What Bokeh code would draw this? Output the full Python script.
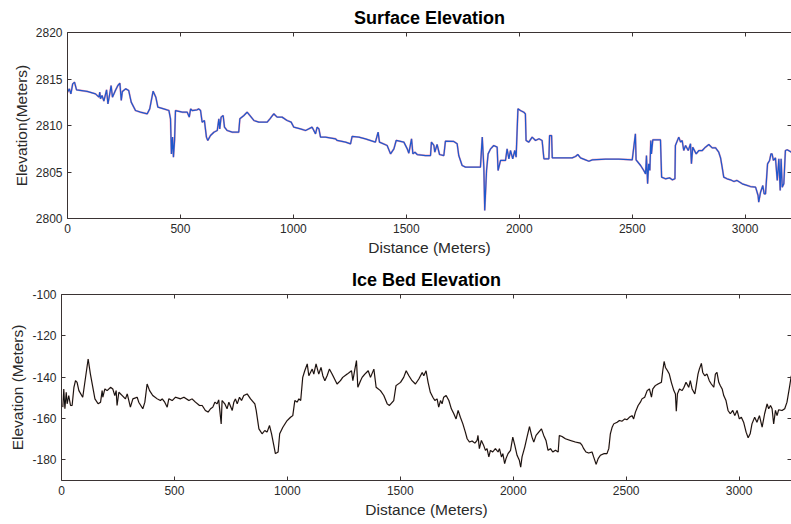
from bokeh.plotting import figure
from bokeh.models import LinearAxis, Range1d, FixedTicker, PrintfTickFormatter
from bokeh.layouts import column, row
from bokeh.embed import file_html
from bokeh.resources import INLINE

# ---------------- data ----------------
surface_x = [0, 8, 15, 23, 31, 40, 87, 124, 139, 143, 146, 153, 161, 173, 179, 187, 193, 199, 212, 223,
             232, 238, 243, 258, 271, 282, 301, 323, 353, 364, 379, 391, 400, 426, 449, 456, 460, 465, 469, 474,
             478, 508, 530, 539, 545, 552, 574, 581, 589, 596, 606, 615, 621, 633, 648, 663, 670, 674, 680, 689,
             695, 707, 729, 758, 763, 781, 795, 807, 825, 847, 884, 896, 913, 928, 950, 972, 990, 1002, 1031,
             1054, 1083, 1098, 1105, 1113, 1120, 1142, 1186, 1194, 1231, 1253, 1260, 1290, 1319, 1363, 1375, 1381,
             1415, 1430, 1445, 1455, 1489, 1504, 1511, 1523, 1529, 1538, 1548, 1585, 1607, 1611, 1622, 1626, 1636,
             1647, 1666, 1673, 1710, 1725, 1732, 1747, 1762, 1828, 1836, 1843, 1847, 1855, 1862, 1873, 1887, 1902,
             1906, 1917, 1939, 1946, 1954, 1961, 1971, 1980, 1986, 1994, 2005, 2020, 2027, 2030, 2042, 2057, 2072,
             2087, 2101, 2109,
             2116, 2131, 2134, 2143, 2146, 2175, 2205, 2234, 2249, 2259, 2271, 2293, 2308, 2323, 2382, 2441, 2500,
             2514, 2517, 2537, 2551, 2559, 2563, 2568, 2573, 2578, 2582, 2585, 2591, 2610, 2625, 2630, 2647, 2665,
             2677, 2689, 2691, 2706, 2714, 2721, 2728, 2736, 2748, 2758, 2762, 2768, 2783, 2795, 2810, 2824, 2839,
             2854, 2869, 2883, 2891, 2898, 2905, 2920, 2935, 2950, 2964, 2987, 3001, 3023, 3046, 3057, 3060, 3068,
             3078, 3084, 3090, 3099, 3108, 3114, 3119, 3125, 3134, 3142, 3149, 3155, 3159, 3164, 3171, 3178, 3186,
             3205]
surface_y = [2813.58, 2813.94, 2813.40, 2814.48, 2814.66, 2813.84, 2813.66, 2813.40, 2813.05, 2813.58, 2812.87,
             2813.23, 2812.62, 2813.84, 2812.33, 2813.40, 2814.30, 2813.05, 2813.76, 2814.30, 2814.55, 2812.69,
             2813.66, 2813.94, 2813.76, 2812.51, 2811.61, 2811.43, 2811.26, 2811.79, 2813.69, 2813.05, 2811.97,
             2811.79, 2811.61, 2810.72, 2806.95, 2808.75, 2806.60, 2808.39, 2811.61, 2811.43, 2811.43, 2810.90,
             2811.79, 2811.61, 2811.69, 2811.79, 2811.61, 2810.36, 2810.54, 2808.75, 2808.39, 2808.93, 2809.28,
             2809.46, 2810.72, 2809.64, 2810.90, 2811.08, 2809.82, 2809.46, 2809.28, 2809.28, 2810.72, 2811.08,
             2811.43, 2811.08, 2810.54, 2810.36, 2810.36, 2810.72, 2811.26, 2810.90, 2810.90, 2810.54, 2810.36,
             2809.82, 2809.64,
             2809.46, 2809.82, 2809.10, 2809.82, 2809.64, 2808.75, 2808.75, 2808.57, 2808.39, 2808.21, 2808.03,
             2808.82, 2808.75, 2808.57, 2808.21, 2809.28, 2808.21, 2807.85, 2806.95, 2807.49, 2808.39, 2808.21,
             2807.49, 2807.02, 2808.57, 2806.95, 2807.13, 2806.88, 2806.77, 2806.77, 2808.21, 2807.85, 2807.13,
             2807.96, 2806.88, 2806.77, 2808.32, 2808.28, 2808.03, 2806.77, 2805.70, 2805.52, 2805.52, 2808.75,
             2805.52, 2800.86, 2805.16, 2806.95, 2807.49, 2807.85, 2807.67, 2805.16, 2806.24, 2806.24, 2807.49,
             2806.42, 2807.31, 2806.42, 2807.31, 2806.60, 2811.79, 2811.61, 2811.43, 2811.25, 2808.39, 2808.21,
             2808.75, 2808.39, 2808.57, 2808.39, 2806.42,
             2806.42, 2806.42, 2808.92, 2808.92, 2806.52, 2806.52, 2806.52, 2806.52, 2806.67, 2806.88, 2806.52,
             2806.31, 2806.16, 2806.31, 2806.38, 2806.38, 2806.31, 2809.10, 2806.31, 2805.70, 2805.16, 2804.80,
             2806.77, 2803.73, 2805.88, 2805.16, 2808.39, 2806.95, 2808.46, 2808.46, 2808.46, 2804.45, 2804.27,
             2804.37, 2804.16, 2804.27, 2807.85, 2808.75, 2808.21, 2808.39, 2807.31, 2807.85, 2807.31, 2808.03,
             2805.88, 2807.67, 2806.95, 2807.31, 2807.31, 2807.67, 2807.96, 2807.60, 2807.60, 2807.13, 2806.52,
             2805.52, 2804.45, 2804.27, 2804.16, 2803.98, 2804.09, 2803.73, 2803.62, 2803.44, 2803.37, 2802.47,
             2801.76, 2802.83, 2803.55, 2802.65, 2802.65, 2805.88, 2806.24, 2806.95, 2806.95, 2806.24, 2806.52,
             2804.09, 2806.42, 2803.01, 2806.42, 2803.37, 2803.73, 2807.31, 2807.39, 2807.13]

bed_x = [6, 10, 15, 21, 25, 32, 40, 47, 55, 62, 69, 77, 94, 118, 128, 148, 162, 173, 180, 183, 192, 202, 217,
         227, 236, 242, 246, 254, 269, 283, 291, 305, 316, 335, 342, 360, 369, 379, 390, 404, 424, 438, 446, 457,
         468, 475, 490, 505, 527, 542, 564, 578, 593, 611, 623, 637, 649, 660, 670, 679, 689, 696, 707, 711, 723,
         733, 741, 756, 763, 770, 778, 788, 797, 807, 822, 837, 856, 862, 874, 888, 900, 910, 921, 930, 940, 947,
         959, 966, 980, 999, 1014, 1024, 1033, 1043, 1051, 1059, 1068, 1077, 1088, 1095, 1110, 1117, 1127, 1139,
         1149, 1157, 1166, 1176, 1186, 1198, 1220, 1235, 1245, 1265, 1284, 1290, 1299, 1306, 1312, 1324, 1331,
         1343, 1358, 1368, 1383, 1393, 1412, 1427, 1442, 1452, 1471, 1481, 1501, 1515, 1526, 1538, 1552, 1567,
         1582, 1597, 1604, 1614, 1623, 1633, 1644, 1653, 1663, 1670, 1678, 1685, 1692, 1703, 1715, 1726, 1737,
         1747, 1756, 1766, 1777, 1788, 1796, 1806, 1818, 1830, 1840, 1844, 1850, 1859, 1869, 1877, 1884, 1892,
         1899, 1909, 1921, 1933, 1939, 1948, 1954, 1962, 1968, 1977, 1988, 1998, 2007, 2017, 2027, 2033, 2039,
         2051, 2061, 2072, 2083, 2091, 2101, 2113, 2125, 2135, 2145, 2154, 2165, 2175, 2187, 2199, 2204, 2216,
         2231, 2253, 2275, 2297, 2305, 2312, 2322, 2334, 2349, 2356, 2367, 2376, 2386, 2401, 2415, 2423, 2430,
         2438, 2445, 2460, 2470, 2482, 2494, 2504, 2514, 2526, 2533, 2541, 2553, 2563, 2570, 2582, 2593, 2603,
         2612, 2618, 2629, 2641, 2656, 2662, 2668, 2674, 2683, 2691, 2700, 2711, 2718, 2722, 2727, 2736, 2748,
         2756, 2765, 2777, 2784, 2792, 2804, 2809, 2818, 2824, 2833, 2839, 2848, 2858, 2868, 2877, 2888, 2895,
         2902, 2910, 2917, 2925, 2932, 2942, 2951, 2961, 2972, 2981, 2991, 3001, 3010, 3020, 3031, 3040, 3049,
         3057, 3069, 3079, 3090, 3102, 3113, 3124, 3131, 3139, 3146, 3153, 3161, 3168, 3175, 3190, 3202, 3212,
         3223, 3231]
bed_y = [-154.5, -145.7, -155.3, -147.3, -152.9, -148.9, -153.7, -153.7, -144.9, -141.7, -142.5, -146.5, -149.7,
         -131.2, -138.5, -150.5, -152.9, -152.1, -146.5, -149.7, -145.7, -146.5, -144.9, -145.7, -148.9, -146.5,
         -153.7, -147.3, -148.9, -150.5, -148.1, -154.5, -150.5, -149.7, -152.1, -155.3, -152.1, -143.3, -146.5,
         -148.9, -150.5, -151.3, -150.5, -152.1, -154.5, -150.5, -151.3, -149.7, -150.5, -149.7, -151.3, -150.5,
         -152.1, -153.7, -153.7, -156.1, -156.9, -155.3, -154.5, -152.1, -152.9, -151.0, -162.6, -151.3, -152.9,
         -155.3, -152.1, -156.1, -152.1, -150.5, -152.9, -149.7, -151.3, -148.9, -148.1, -150.5, -152.9, -156.1,
         -165.0, -167.4, -165.8, -166.6, -163.4, -167.4, -173.0, -177.0, -176.2, -167.4, -164.2, -161.0, -159.4,
         -158.6, -151.3, -152.1, -150.5, -151.3, -140.1, -136.9, -133.6, -139.3, -136.1, -138.5, -133.6, -138.5,
         -135.3, -139.3, -141.7, -139.3, -136.1, -138.5, -143.3, -141.7, -140.1, -138.5, -136.9, -141.7, -136.1,
         -132.0, -144.9, -141.7, -140.1, -138.5, -136.9, -140.1, -136.1, -144.9, -146.5, -148.9, -152.9, -153.7,
         -151.3, -144.1, -142.5, -140.1, -136.9, -139.3, -141.7, -143.3,
         -140.9, -137.7, -139.3, -136.9, -142.5, -147.3, -149.7, -151.3, -150.5, -154.5, -151.3, -152.9, -149.7,
         -148.9, -151.3, -155.3, -157.7, -160.2, -156.1, -159.4, -162.6, -166.6, -169.8, -171.4, -170.9, -171.9,
         -170.6, -168.2, -174.6, -170.6, -173.0, -175.4, -174.6, -178.6, -175.4, -176.2, -174.6, -176.2, -174.6,
         -178.6, -177.0, -181.8, -179.4, -177.0, -175.4, -169.0, -173.0, -177.8, -180.2, -183.5, -178.6, -173.8,
         -169.0, -163.9, -169.0, -171.4, -168.2, -166.6, -165.0, -168.2, -170.6, -175.4, -174.6, -176.2, -175.4,
         -176.2, -168.2, -168.7, -169.8, -170.6, -171.4, -171.9, -173.0, -174.6, -176.2, -176.7, -176.2, -178.6,
         -182.2, -179.4, -177.8, -177.0, -177.0, -174.6, -167.4, -164.2, -162.6, -161.8, -161.0, -161.3, -160.2,
         -160.6, -159.4, -158.6, -160.2, -156.9, -153.7, -152.1, -150.5, -149.7, -146.5, -145.7, -149.7, -145.7,
         -144.1, -143.3, -142.5, -136.9, -132.4, -135.3, -136.9, -138.5, -142.5, -146.5, -148.1, -156.5, -148.1,
         -145.7, -146.5, -144.9, -142.5, -144.9, -141.7, -145.7, -148.1, -144.9, -138.5, -136.1, -133.3, -137.7,
         -139.3, -138.5, -141.7, -143.3, -144.9, -138.5, -137.7, -142.5, -144.1, -145.7, -148.9, -151.3, -156.1,
         -157.7, -156.1, -158.6, -156.1, -160.2, -159.4, -161.8, -166.6, -169.3, -167.4, -162.6, -159.4, -161.8,
         -158.6, -164.2, -157.7, -152.9, -155.3, -153.7, -155.3, -162.6, -156.1, -158.6, -155.8, -156.1, -155.3,
         -152.1, -144.9, -139.3]

x_ticks = [0, 500, 1000, 1500, 2000, 2500, 3000]
surface_ticks = [2800, 2805, 2810, 2815, 2820]
bed_ticks = [-180, -160, -140, -120, -100]

FONT = "Liberation Sans"
AX = "#3a3333"
TXT = "#2a2a2a"


def style_axis(ax, labels=True):
    ax.axis_line_color = AX
    ax.major_tick_line_color = AX
    ax.major_tick_in = 4
    ax.major_tick_out = 0
    ax.minor_tick_line_color = None
    ax.major_label_text_font = FONT
    ax.major_label_text_font_size = "12px"
    ax.major_label_text_color = TXT
    ax.major_label_standoff = 5
    ax.formatter = PrintfTickFormatter(format="%d")
    ax.axis_label_text_font = FONT
    ax.axis_label_text_font_size = "15.5px"
    ax.axis_label_text_font_style = "normal"
    ax.axis_label_text_color = TXT
    ax.axis_label_standoff = 3
    if not labels:
        ax.major_label_text_font_size = "1px"
        ax.major_label_text_color = None
        ax.major_label_standoff = 0


def make_fig(title, xr, yr, yticks, ylabel, w, h, left, top, bottom):
    p = figure(width=w, height=h, x_range=Range1d(*xr), y_range=Range1d(*yr),
               output_backend="svg", toolbar_location=None,
               min_border_left=left, min_border_right=0, min_border_top=top,
               min_border_bottom=bottom)
    p.title.text = title
    p.title.align = "center"
    p.title.text_font = FONT
    p.title.text_font_size = "18px"
    p.title.text_font_style = "bold"
    p.title.text_color = "#000000"
    p.title.standoff = 10
    p.grid.visible = False
    p.outline_line_color = None
    p.background_fill_color = "white"
    p.border_fill_color = "white"
    p.xaxis.ticker = FixedTicker(ticks=x_ticks)
    p.yaxis.ticker = FixedTicker(ticks=yticks)
    p.xaxis.axis_label = "Distance (Meters)"
    p.yaxis.axis_label = ylabel
    style_axis(p.xaxis[0])
    style_axis(p.yaxis[0])
    top_ax = LinearAxis(ticker=FixedTicker(ticks=x_ticks))
    style_axis(top_ax, labels=False)
    p.add_layout(top_ax, "above")
    right_ax = LinearAxis(ticker=FixedTicker(ticks=yticks))
    style_axis(right_ax, labels=False)
    right_ax.axis_line_color = None
    p.add_layout(right_ax, "right")
    return p


p1 = make_fig("Surface Elevation", (0, 3205), (2800, 2820), surface_ticks,
              "Elevation(Meters)", 791, 262, 67, 32, 44)
p1.line(surface_x, surface_y, line_color="#e8507a", line_width=1.9, line_alpha=0.55)
p1.line(surface_x, surface_y, line_color="#1f58cc", line_width=1.25)

p2 = make_fig("Ice Bed Elevation", (0, 3232), (-190, -100), bed_ticks,
              "Elevation (Meters)", 791, 262, 61, 31, 44)
p2.line(bed_x, bed_y, line_color="#e89070", line_width=1.8, line_alpha=0.3)
p2.line(bed_x, bed_y, line_color="#111111", line_width=1.1)

layout = column(row(p1), row(p2), spacing=0)
open("out.html", "w").write(file_html(layout, INLINE))
